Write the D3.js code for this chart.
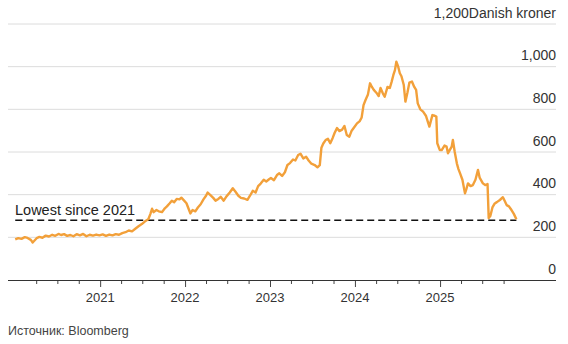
<!DOCTYPE html>
<html><head><meta charset="utf-8">
<script src="https://cdn.jsdelivr.net/npm/d3@7"></script>
<style>body{margin:0;background:#fff}svg{display:block}text{font-family:"Liberation Sans",Arial,sans-serif}</style>
</head><body><svg id="c" width="568" height="344"></svg>
<script>
const dates = [
"2020-01-02","2020-01-15","2020-01-29","2020-02-12","2020-02-24","2020-03-09","2020-03-17","2020-03-24","2020-04-03","2020-04-15","2020-04-28","2020-05-12","2020-05-26","2020-06-09","2020-06-22","2020-07-06","2020-07-17","2020-07-30","2020-08-12","2020-08-26","2020-09-08","2020-09-22","2020-10-06","2020-10-20","2020-11-03","2020-11-17","2020-12-01","2020-12-15","2020-12-29",
"2021-01-12","2021-01-26","2021-02-09","2021-02-23","2021-03-09","2021-03-23","2021-04-06","2021-04-20","2021-05-04","2021-05-18","2021-06-01","2021-06-15","2021-06-29","2021-07-13","2021-07-27","2021-08-05","2021-08-12","2021-08-19","2021-08-31","2021-09-10","2021-09-24","2021-10-06","2021-10-15","2021-10-27","2021-11-05","2021-11-15","2021-11-26","2021-12-08","2021-12-16","2021-12-28",
"2022-01-07","2022-01-14","2022-01-24","2022-02-02","2022-02-14","2022-02-25","2022-03-09","2022-03-21","2022-04-01","2022-04-08","2022-04-20","2022-05-02","2022-05-12","2022-05-24","2022-06-03","2022-06-16","2022-06-28","2022-07-12","2022-07-25","2022-08-05","2022-08-18","2022-08-29","2022-09-12","2022-09-26","2022-10-07","2022-10-19","2022-10-31","2022-11-11","2022-11-22","2022-12-05","2022-12-16","2022-12-28",
"2023-01-05","2023-01-18","2023-01-31","2023-02-10","2023-02-22","2023-03-06","2023-03-17","2023-03-28","2023-04-10","2023-04-20","2023-05-02","2023-05-12","2023-05-24","2023-06-05","2023-06-16","2023-06-28","2023-07-12","2023-07-24","2023-08-03","2023-08-10","2023-08-18","2023-08-28","2023-09-07","2023-09-17","2023-09-27","2023-10-06","2023-10-16","2023-10-26","2023-11-07","2023-11-17","2023-11-27","2023-12-08","2023-12-18","2023-12-29",
"2024-01-10","2024-01-22","2024-01-30","2024-02-07","2024-02-16","2024-02-26","2024-03-06","2024-03-14","2024-03-22","2024-04-02","2024-04-12","2024-04-20","2024-04-30","2024-05-08","2024-05-20","2024-05-30","2024-06-07","2024-06-14","2024-06-21","2024-06-27","2024-07-05","2024-07-12","2024-07-19","2024-07-29","2024-08-05","2024-08-14","2024-08-22","2024-09-02","2024-09-12","2024-09-20","2024-09-27","2024-10-08","2024-10-20","2024-11-01","2024-11-16","2024-11-29","2024-12-09","2024-12-16","2024-12-20","2024-12-31",
"2025-01-08","2025-01-20","2025-01-29","2025-02-04","2025-02-12","2025-02-20","2025-02-25","2025-03-05","2025-03-14","2025-03-21","2025-03-28","2025-04-07","2025-04-18","2025-04-25","2025-05-01","2025-05-12","2025-05-22","2025-06-02","2025-06-13","2025-06-20","2025-07-04","2025-07-14","2025-07-24","2025-07-29","2025-08-05","2025-08-14","2025-08-24","2025-09-02","2025-09-15","2025-09-28","2025-10-06","2025-10-14","2025-10-24","2025-11-04","2025-11-14","2025-11-25"];
const prices = [
190,196,193,201,197,188,176,184,196,202,198,208,204,212,207,216,211,215,207,211,205,215,209,216,205,212,208,213,209,
214,207,213,209,215,212,220,224,232,228,240,252,262,275,285,310,334,318,328,322,318,336,345,360,372,365,380,378,386,372,
360,340,312,328,322,340,355,378,395,410,398,385,372,380,390,372,392,410,430,415,395,385,382,376,395,418,410,440,452,470,462,472,
478,468,492,500,488,505,539,548,565,560,586,592,570,578,560,545,539,528,538,620,640,656,662,641,665,690,712,698,705,722,680,672,700,716,
734,745,762,820,845,870,922,905,891,878,862,900,875,859,905,900,930,960,984,1023,1000,969,955,914,836,880,925,930,905,891,828,800,789,770,719,773,770,766,641,609,
609,630,625,594,610,625,656,600,547,520,500,470,406,430,453,440,445,470,516,480,453,445,450,290,300,340,359,365,375,388,370,351,345,328,310,285];
const yTicks = [0,200,400,600,800,1000,1200];
const yearTicks = ["2021","2022","2023","2024","2025"];
const lowestValue = 280;
const unitLabel = "Danish kroner";
const sourceText = "Источник: Bloomberg";
const annotation = "Lowest since 2021";

const parse = d3.timeParse("%Y-%m-%d");
const data = dates.map((d,i)=>({date:parse(d),value:prices[i]}));
const svg = d3.select("#c");
const x = d3.scaleTime().domain([new Date(2020,0,1), new Date(2026,0,1)]).range([15, 525]);
const y = d3.scaleLinear().domain([0,1200]).range([280, 24]);
const left = 8, right = 556;

svg.append("g").selectAll("line").data(yTicks.filter(v=>v>0)).join("line")
  .attr("x1",left).attr("x2",right).attr("y1",d=>y(d)).attr("y2",d=>y(d))
  .attr("stroke","#dcdcdc").attr("stroke-width",1);
svg.append("g").selectAll("text").data(yTicks).join("text")
  .attr("x",right).attr("y",d=>y(d)-6.5).attr("text-anchor","end")
  .attr("font-size",14).attr("fill","#333")
  .text(d=> d===1200 ? d3.format(",")(d)+unitLabel : d3.format(",")(d));

const tickDates = d3.timeMonth.every(3).range(new Date(2020,3,1), new Date(2025,11,1));
const xAxis = d3.axisBottom(x).tickValues(tickDates).tickSize(4).tickFormat("");
const ax = svg.append("g").attr("transform","translate(0,280)").call(xAxis);
ax.select(".domain").remove();
ax.selectAll(".tick line").attr("stroke","#444")
  .attr("y2",d=>d.getMonth()===0?7:4);
svg.append("line").attr("x1",left).attr("x2",right).attr("y1",280.5).attr("y2",280.5)
  .attr("stroke","#333").attr("stroke-width",1);
svg.append("g").selectAll("text").data(yearTicks).join("text")
  .attr("x",d=>x(new Date(+d,0,1))).attr("y",302).attr("text-anchor","middle")
  .attr("font-size",13).attr("fill","#333").text(d=>d);

const last = data[data.length-1].date;
svg.append("line").attr("x1",x(data[0].date)).attr("x2",x(last))
  .attr("y1",y(lowestValue)).attr("y2",y(lowestValue))
  .attr("stroke","#111").attr("stroke-width",1.6).attr("stroke-dasharray","7,4");
svg.append("text").attr("x",15).attr("y",y(lowestValue)-5).attr("font-size",14.5).attr("fill","#222").text(annotation);

svg.append("path").datum(data).attr("fill","none").attr("stroke","#f2a03a").attr("stroke-width",2.4)
  .attr("stroke-linejoin","round")
  .attr("d",d3.line().x(d=>x(d.date)).y(d=>y(d.value)));

svg.append("text").attr("x",8).attr("y",335).attr("font-size",12.5).attr("fill","#444").text(sourceText);
</script></body></html>
